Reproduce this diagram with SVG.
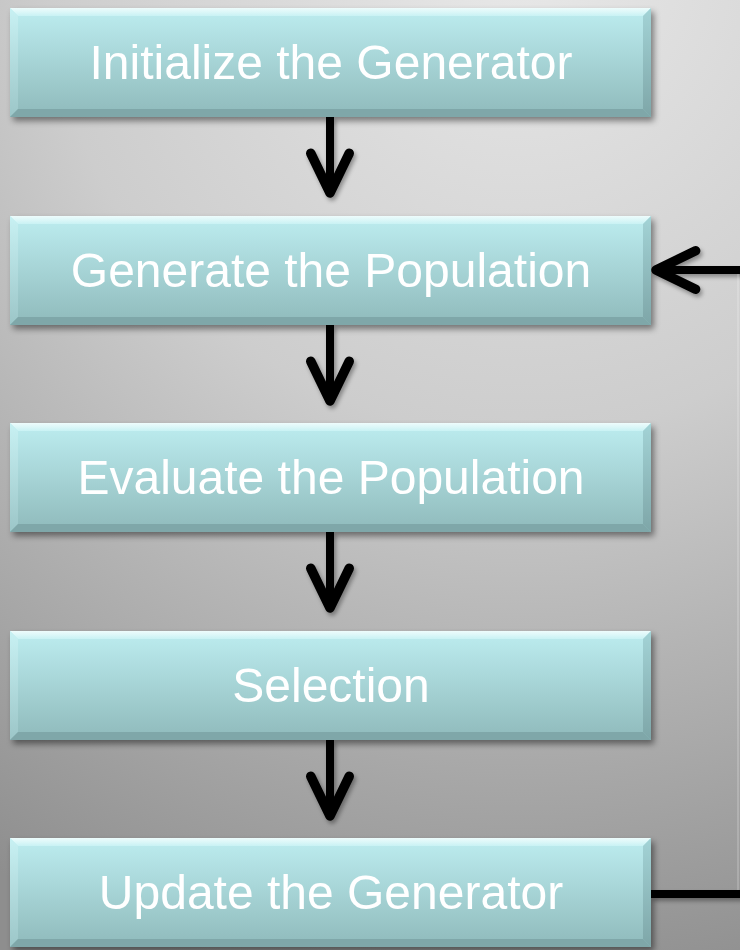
<svg xmlns="http://www.w3.org/2000/svg" width="740" height="950" viewBox="0 0 740 950">
  <defs>
    <radialGradient id="bg" cx="520" cy="-40" r="1050" gradientUnits="userSpaceOnUse">
      <stop offset="0" stop-color="#e8e8e8"/>
      <stop offset="0.45" stop-color="#cdcdcd"/>
      <stop offset="1" stop-color="#8e8e8e"/>
    </radialGradient>
    <linearGradient id="face" x1="0" y1="0" x2="0" y2="1">
      <stop offset="0" stop-color="#bdedf0"/>
      <stop offset="1" stop-color="#8fbabb"/>
    </linearGradient>
    <linearGradient id="topBevel" x1="0" y1="0" x2="0" y2="1">
      <stop offset="0" stop-color="#eefcfc"/>
      <stop offset="1" stop-color="#c9f2f4"/>
    </linearGradient>
    <linearGradient id="leftBevel" x1="0" y1="0" x2="0" y2="1">
      <stop offset="0" stop-color="#c8f1f3"/>
      <stop offset="1" stop-color="#9cc6c8"/>
    </linearGradient>
    <linearGradient id="rightBevel" x1="0" y1="0" x2="0" y2="1">
      <stop offset="0" stop-color="#a3d3d6"/>
      <stop offset="1" stop-color="#7ea6a8"/>
    </linearGradient>
    <filter id="shadow" x="-10%" y="-10%" width="125%" height="130%">
      <feDropShadow dx="3" dy="4" stdDeviation="3" flood-color="#000" flood-opacity="0.45"/>
    </filter>
    <filter id="lineShadow" x="-20%" y="-20%" width="140%" height="140%">
      <feDropShadow dx="2" dy="3" stdDeviation="2" flood-color="#000" flood-opacity="0.35"/>
    </filter>
    <marker id="head" markerUnits="userSpaceOnUse" markerWidth="60" markerHeight="60" refX="0" refY="0" viewBox="-40 -25 50 50" orient="auto" overflow="visible">
      <path d="M-33,-16 L0,0 L-33,16" fill="none" stroke="#000" stroke-width="8" stroke-linecap="round" stroke-linejoin="round"/>
    </marker>
    <!-- one bevelled box, 641 x 109 -->
    <g id="box">
      <rect x="0" y="0" width="641" height="109" fill="url(#face)"/>
      <polygon points="0,0 641,0 633,8 8,8" fill="url(#topBevel)"/>
      <polygon points="0,0 8,8 8,101 0,109" fill="url(#leftBevel)"/>
      <polygon points="641,0 641,109 633,101 633,8" fill="url(#rightBevel)"/>
      <polygon points="0,109 8,101 633,101 641,109" fill="#7fa7a9"/>
    </g>
  </defs>
  <style>
    .label { font-family: "Liberation Sans", Arial, sans-serif; font-size: 48px; fill: #ffffff; text-anchor: middle; }
    .conn { fill: none; stroke: #000; stroke-width: 8; }
  </style>

  <rect x="0" y="0" width="740" height="950" fill="url(#bg)"/>

  <g id="connectors" filter="url(#lineShadow)">
    <path class="conn" d="M330,117 V193" marker-end="url(#head)"/>
    <path class="conn" d="M330,325 V401" marker-end="url(#head)"/>
    <path class="conn" d="M330,532 V608" marker-end="url(#head)"/>
    <path class="conn" d="M330,740 V816" marker-end="url(#head)"/>
    <path class="conn" d="M651,894 H748 V270 H656" marker-end="url(#head)"/>
  </g>
  <!-- edge of the return line just past the right border -->
  <line x1="738" y1="274" x2="738" y2="890" stroke="#ffffff" stroke-opacity="0.18" stroke-width="2"/>

  <g id="init" filter="url(#shadow)">
    <use href="#box" x="10" y="8"/>
    <text class="label" x="331" y="79">Initialize the Generator</text>
  </g>
  <g id="generate" filter="url(#shadow)">
    <use href="#box" x="10" y="216"/>
    <text class="label" x="331" y="287">Generate the Population</text>
  </g>
  <g id="evaluate" filter="url(#shadow)">
    <use href="#box" x="10" y="423"/>
    <text class="label" x="331" y="494">Evaluate the Population</text>
  </g>
  <g id="selection" filter="url(#shadow)">
    <use href="#box" x="10" y="631"/>
    <text class="label" x="331" y="702">Selection</text>
  </g>
  <g id="update" filter="url(#shadow)">
    <use href="#box" x="10" y="838"/>
    <text class="label" x="331" y="909">Update the Generator</text>
  </g>
</svg>
